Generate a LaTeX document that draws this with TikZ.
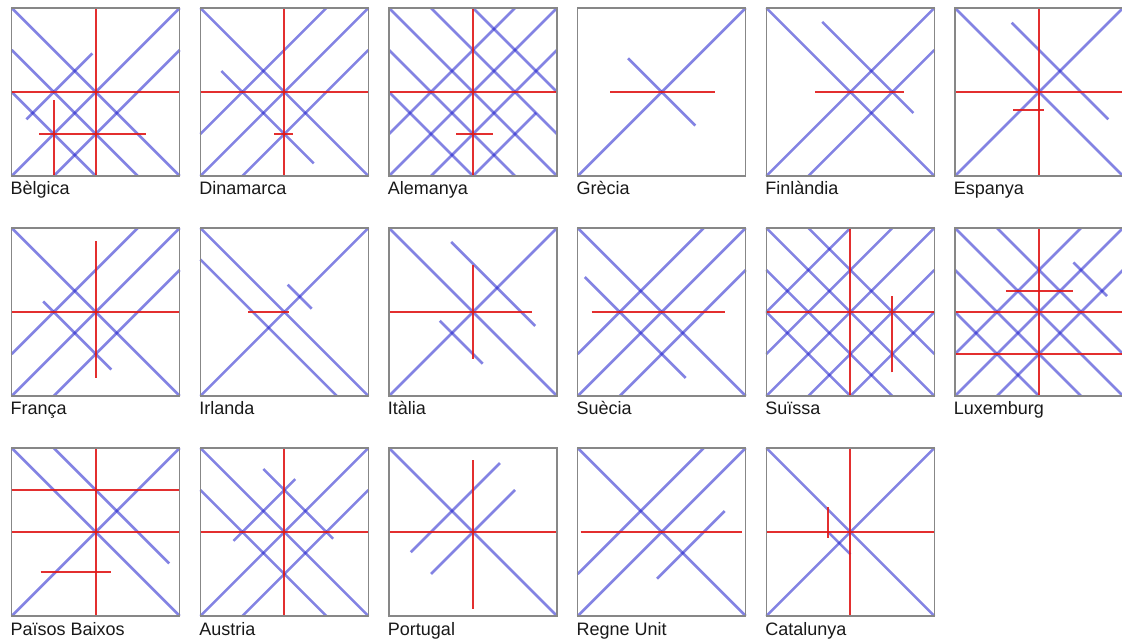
\documentclass[tikz,border=0pt]{standalone}
\usepackage{fontspec}
\setmainfont{Liberation Sans}
\definecolor{blueline}{RGB}{30,30,205}
\definecolor{redline}{RGB}{225,25,25}
\definecolor{framegray}{RGB}{135,135,135}
\definecolor{labtext}{RGB}{25,25,25}
\newcommand{\tlbr}[3]{\draw[bl] (#2,{(#1)-(#2)}) -- (#3,{(#1)-(#3)});}
\newcommand{\bltr}[3]{\draw[bl] (#2,{(#1)+(#2)}) -- (#3,{(#1)+(#3)});}
\newcommand{\redh}[3]{\draw[rd] (#2,#1) -- (#3,#1);}
\newcommand{\redv}[3]{\draw[rd] (#1,#2) -- (#1,#3);}
\newcommand{\panel}[5]{%
  \begin{scope}[shift={({11.7+188.66*#1+84},{643-8-220*#2-84})},x=42pt,y=42pt]
    #5
    \draw[frame] (-2,-2) rectangle (2,2);
    \node[lab] (#3) at (-2.03,{-2-19/42}) {#4};
  \end{scope}}
\begin{document}
\begin{tikzpicture}[x=1pt,y=1pt,
  bl/.style={draw=blueline,line width=2.6pt,opacity=0.55},
  rd/.style={draw=redline,line width=2.1pt,opacity=0.9},
  frame/.style={draw=framegray,line width=1.1pt},
  lab/.style={anchor=base west,inner sep=0pt,text=labtext,font=\fontsize{18}{21}\selectfont}]
\useasboundingbox (0,0) rectangle (1122,643);
\fill[white] (0,0) rectangle (1122,643);
% Row 1
\panel{0}{0}{belgica}{B\`elgica}{%
  \tlbr{0}{-2}{2}\tlbr{-1}{-2}{1}\tlbr{-2}{-2}{0}
  \bltr{0}{-2}{2}\bltr{-1}{-1}{2}\bltr{1}{-1.65}{-0.08}
  \redv{0}{-2}{2}\redh{0}{-2}{2}\redv{-1}{-2}{-0.18}\redh{-1}{-1.34}{1.19}}
\panel{1}{0}{dinamarca}{Dinamarca}{%
  \tlbr{0}{-2}{2}\tlbr{-1}{-1.5}{0.7}
  \bltr{0}{-2}{2}\bltr{1}{-2}{1}\bltr{-1}{-1}{2}
  \redv{0}{-2}{2}\redh{0}{-2}{2}\redh{-1}{-0.24}{0.21}}
\panel{2}{0}{alemanya}{Alemanya}{%
  \tlbr{0}{-2}{2}\tlbr{1}{-1}{2}\tlbr{2}{0}{2}\tlbr{-1}{-2}{1}\tlbr{-2}{-2}{0}
  \bltr{0}{-2}{2}\bltr{1}{-2}{1}\bltr{-1}{-1}{2}\bltr{-2}{0}{1.5}
  \redv{0}{-2}{2}\redh{0}{-2}{2}\redh{-1}{-0.4}{0.48}}
\panel{3}{0}{grecia}{Gr\`ecia}{%
  \bltr{0}{-2}{2}\tlbr{0}{-0.8}{0.8}
  \redh{0}{-1.22}{1.28}}
\panel{4}{0}{finlandia}{Finl\`andia}{%
  \tlbr{0}{-2}{2}\tlbr{1}{-0.67}{1.5}
  \bltr{0}{-2}{2}\bltr{-1}{-1}{2}
  \redh{0}{-0.83}{1.27}}
\panel{5}{0}{espanya}{Espanya}{%
  \tlbr{0}{-2}{2}\tlbr{1}{-0.65}{1.65}
  \bltr{0}{-2}{2}
  \redv{0}{-2}{2}\redh{0}{-2}{2}\redh{-0.42}{-0.61}{0.13}}
% Row 2
\panel{0}{1}{franca}{França}{%
  \tlbr{0}{-2}{2}\tlbr{-1}{-1.25}{0.37}
  \bltr{0}{-2}{2}\bltr{1}{-2}{1}\bltr{-1}{-1}{2}
  \redv{0}{-1.57}{1.68}\redh{0}{-2}{2}}
\panel{1}{1}{irlanda}{Irlanda}{%
  \tlbr{0}{-2}{2}\tlbr{-0.75}{-2}{1.25}\tlbr{0.73}{0.08}{0.65}
  \bltr{0}{-2}{2}
  \redh{0}{-0.87}{0.12}}
\panel{2}{1}{italia}{It\`alia}{%
  \tlbr{0}{-2}{2}\tlbr{1.15}{-0.52}{1.48}\tlbr{-1}{-0.79}{0.23}
  \bltr{0}{-2}{2}
  \redv{0}{-1.11}{1.13}\redh{0}{-2}{1.41}}
\panel{3}{1}{suecia}{Su\`ecia}{%
  \tlbr{0}{-2}{2}\tlbr{-1}{-1.83}{0.57}
  \bltr{0}{-2}{2}\bltr{1}{-2}{1}\bltr{-1}{-1}{2}
  \redh{0}{-1.67}{1.5}}
\panel{4}{1}{suissa}{Su\"issa}{%
  \tlbr{0}{-2}{2}\tlbr{1}{-1}{2}\tlbr{-1}{-2}{1}\tlbr{-2}{-2}{0}
  \bltr{0}{-2}{2}\bltr{1}{-2}{1}\bltr{2}{-2}{0}\bltr{-1}{-1}{2}\bltr{-2}{0}{2}
  \redv{0}{-2}{2}\redh{0}{-2}{2}\redv{1}{-1.44}{0.38}}
\panel{5}{1}{luxemburg}{Luxemburg}{%
  \tlbr{0}{-2}{2}\tlbr{1}{-1}{2}\tlbr{-1}{-2}{1}\tlbr{-2}{-2}{0}\tlbr{2}{0.82}{1.62}
  \bltr{0}{-2}{2}\bltr{1}{-2}{1}\bltr{-1}{-1}{2}
  \redv{0}{-2}{2}\redh{0}{-2}{2}\redh{-1}{-2}{2}\redh{0.5}{-0.79}{0.82}}
% Row 3
\panel{0}{2}{paisosbaixos}{Pa\"isos Baixos}{%
  \tlbr{0}{-2}{2}\tlbr{1}{-1}{1.75}
  \bltr{0}{-2}{2}
  \redv{0}{-2}{2}\redh{0}{-2}{2}\redh{1}{-2}{2}\redh{-0.96}{-1.31}{0.37}}
\panel{1}{2}{austria}{Austria}{%
  \tlbr{0}{-2}{2}\tlbr{-1}{-2}{1}\tlbr{1}{-0.5}{1.16}
  \bltr{0}{-2}{2}\bltr{-1}{-1}{2}\bltr{1}{-1.21}{0.26}
  \redv{0}{-2}{2}\redh{0}{-2}{2}}
\panel{2}{2}{portugal}{Portugal}{%
  \tlbr{0}{-2}{2}
  \bltr{1}{-1.48}{0.64}\bltr{0}{-1}{1}
  \redv{0}{-1.83}{1.72}\redh{0}{-2}{2}}
\panel{3}{2}{regneunit}{Regne Unit}{%
  \tlbr{0}{-2}{2}
  \bltr{0}{-2}{2}\bltr{1}{-2}{1}\bltr{-1}{-0.11}{1.5}
  \redh{0}{-1.93}{1.91}}
\panel{4}{2}{catalunya}{Catalunya}{%
  \tlbr{0}{-2}{2}\tlbr{-0.53}{-0.52}{0}
  \bltr{0}{-2}{2}
  \redv{0}{-2}{2}\redh{0}{-2}{2}\redv{-0.53}{-0.14}{0.59}}
\end{tikzpicture}
\end{document}
